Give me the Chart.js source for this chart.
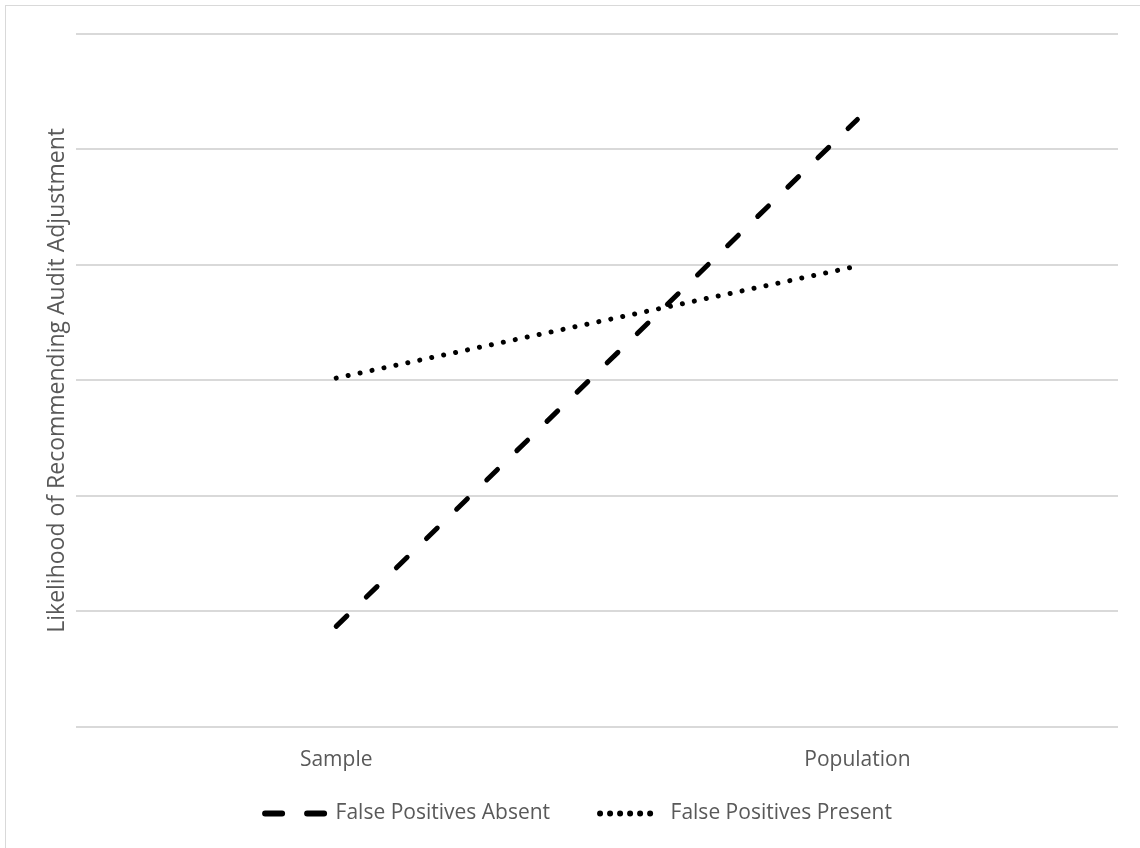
<!DOCTYPE html>
<html>
<head>
<meta charset="utf-8">
<script src="https://cdn.jsdelivr.net/npm/chart.js@4.4.1/dist/chart.umd.min.js"></script>
<style>
  html, body { margin: 0; padding: 0; background: #fff; overflow: hidden; }
  #wrap { position: relative; width: 1140px; height: 848px; }
  #frame { position: absolute; left: 5px; top: 5px; width: 1160px; height: 870px; border: 1px solid #d9d9d9; pointer-events: none; }
</style>
</head>
<body>
<div id="wrap">
  <canvas id="chart" width="1140" height="848"></canvas>
  <div id="frame"></div>
</div>
<script>
// Данные графика
const categories = ['Sample', 'Population'];
const absentValues = [0.87, 5.26];
const presentValues = [3.02, 3.99];
const seriesNames = ['False Positives Absent', 'False Positives Present'];
const yTitle = 'Likelihood of Recommending Audit Adjustment';

const textColor = '#595959';
const fontFamily = '"Open Sans", "Liberation Sans", sans-serif';

// Легенда: ставим её туда, где она в оригинале
const legendPlace = {
    id: 'legendPlace',
    afterLayout(chart) {
        const legend = chart.legend;
        const h = legend.bottom - legend.top;
        legend.top = 753;
        legend.bottom = legend.top + h;
        legend.left += 10;
        legend.right += 10;
    },
};

const ctx = document.getElementById('chart');

new Chart(ctx, {
    type: 'line',
    data: {
        labels: categories,
        datasets: [{
            label: seriesNames[0],
            data: absentValues,
            borderColor: '#000',
            backgroundColor: '#000',
            borderWidth: 5,
            borderDash: [15, 27],
            borderCapStyle: 'round',
            pointRadius: 0,
            fill: false,
        }, {
            label: seriesNames[1],
            data: presentValues,
            borderColor: '#000',
            backgroundColor: '#000',
            borderWidth: 5,
            borderDash: [0.01, 12.2],
            borderCapStyle: 'round',
            pointRadius: 0,
            fill: false,
        }],
    },
    options: {
        responsive: false,
        animation: false,
        layout: {
            padding: { left: 19, right: 22, top: 34, bottom: -19 },
        },
        plugins: {
            tooltip: { enabled: false },
            legend: {
                display: true,
                position: 'bottom',
                labels: {
                    color: textColor,
                    font: { family: fontFamily, size: 21 },
                    usePointStyle: true,
                    pointStyle: 'line',
                    pointStyleWidth: 60,
                    boxHeight: 21,
                    padding: 50,
                    generateLabels: (chart) => {
                        const items = Chart.defaults.plugins.legend.labels.generateLabels(chart);
                        items[0].lineDash = [17, 25];
                        items[1].lineDash = [0.01, 10];
                        items.forEach(item => {
                            item.lineWidth = 6;
                            item.lineCap = 'round';
                            item.pointStyle = 'line';
                        });
                        return items;
                    },
                },
            },
        },
        scales: {
            x: {
                offset: true,
                grid: { display: false },
                border: { display: false },
                ticks: {
                    color: textColor,
                    font: { family: fontFamily, size: 21 },
                    padding: 13,
                },
            },
            y: {
                min: 0,
                max: 6,
                ticks: { display: false, stepSize: 1 },
                grid: { color: '#d9d9d9', lineWidth: 2, drawTicks: false },
                border: { display: false },
                title: {
                    display: true,
                    text: yTitle,
                    color: textColor,
                    font: { family: fontFamily, size: 23, weight: 'normal' },
                    padding: { top: 25, bottom: 4 },
                },
            },
        },
    },
    plugins: [legendPlace],
});
</script>
</body>
</html>
